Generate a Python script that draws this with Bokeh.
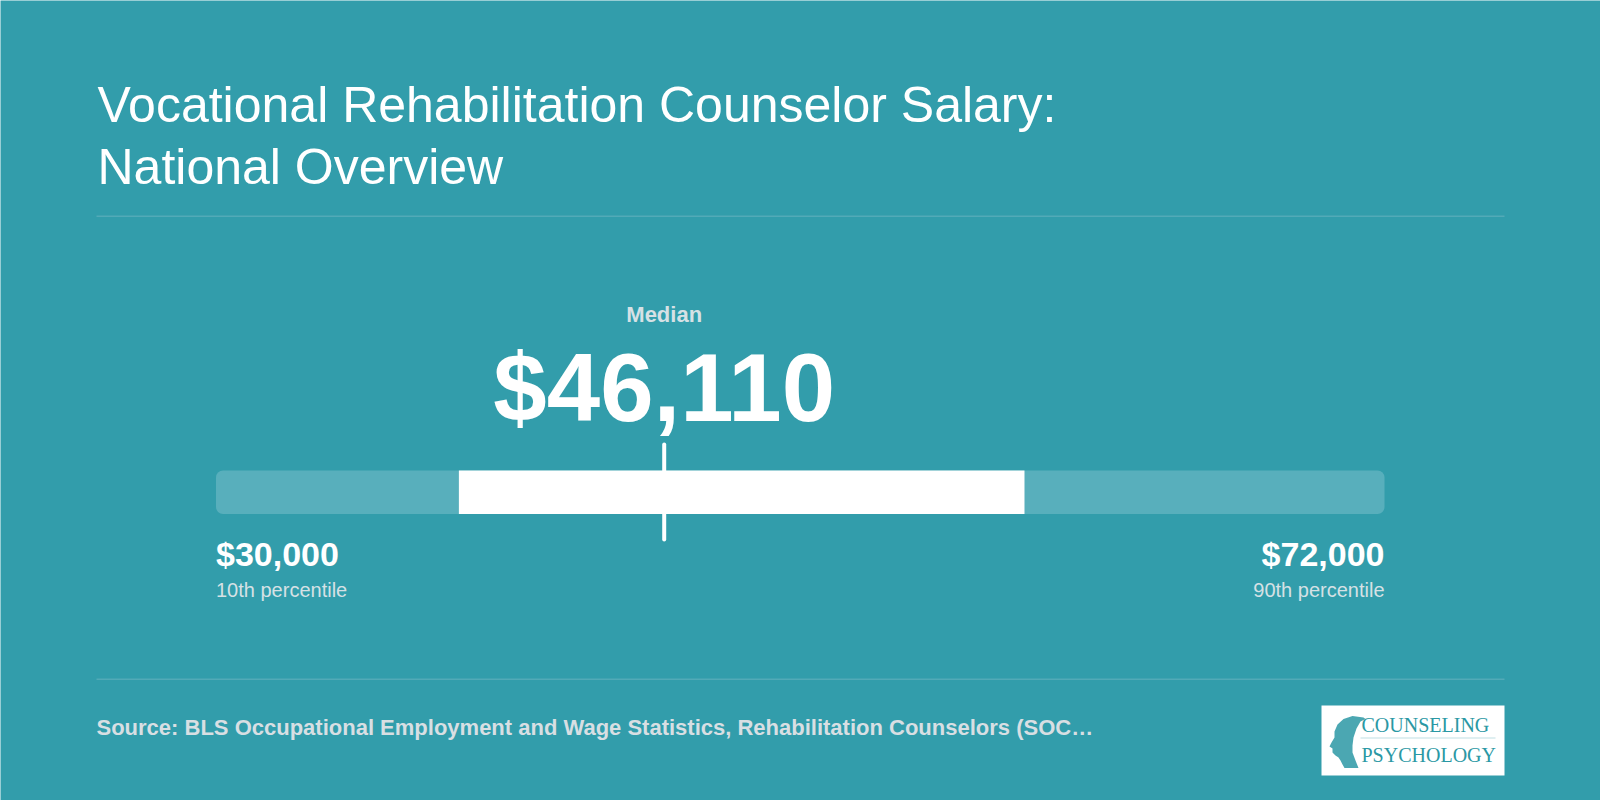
from bokeh.plotting import figure
from bokeh.models import Range1d, Label, BoxAnnotation
from bokeh.embed import file_html
from bokeh.resources import INLINE

# ---------------- data ----------------
percentile_names = ["10th percentile", "25th percentile", "Median", "75th percentile", "90th percentile"]
salary_values = [30000, 38730, 46110, 59060, 72000]
title_lines = ["Vocational Rehabilitation Counselor Salary:", "National Overview"]
source_text = "Source: BLS Occupational Employment and Wage Statistics, Rehabilitation Counselors (SOC\u2026"
logo_words = ["COUNSELING", "PSYCHOLOGY"]

p10, p25, med, p75, p90 = salary_values

# ---------------- style ----------------
BG = "#329dab"
TRACK = "#58afbc"
RULE = "#52aab7"
MUTED = "#d6e1e5"
FONT = "Liberation Sans"
W, H = 1600, 800
BAR_LEFT_PX, BAR_RIGHT_PX = 215.5, 1384.0
SHIFT = 0.35  # baseline correction (em)

# x axis in dollars, positioned so the percentile track sits where it should
scale = (BAR_RIGHT_PX - BAR_LEFT_PX) / (p90 - p10)
x_start = p10 - BAR_LEFT_PX / scale
x_end = x_start + W / scale

p = figure(width=W, height=H, x_range=Range1d(x_start, x_end), y_range=Range1d(H, 0),
           output_backend="svg", toolbar_location=None, min_border=0,
           background_fill_color=BG, border_fill_color=BG)
p.axis.visible = False
p.grid.visible = False
p.outline_line_color = None


def px(xp):
    return x_start + xp / scale


def label(x, baseline, text, size, color="white", bold=False, align="left", screen=False,
          font=FONT):
    kw = dict(x_units="screen") if screen else {}
    p.add_layout(Label(x=x, y=baseline - SHIFT * size, text=text, text_font=font,
                       text_font_size=f"{size}px", text_font_style="bold" if bold else "normal",
                       text_color=color, text_align=align, text_baseline="alphabetic", **kw))


# title
for line, yb in zip(title_lines, [122, 184]):
    label(97, yb, line, 50, screen=True)

# separators
for yy in [215, 678]:
    p.add_layout(BoxAnnotation(left=96, right=1504, left_units="screen", right_units="screen",
                               top=yy, bottom=yy + 1.5, fill_color=RULE, fill_alpha=1, line_color=None,
                               level="underlay"))

# track and interquartile box
p.quad(left=[p10], right=[p90], top=[470], bottom=[513.5], fill_color=TRACK, line_color=None,
       border_radius=7)
p.quad(left=[p25], right=[p75], top=[470], bottom=[513.5], fill_color="white", line_color=None)
p.segment(x0=[med], x1=[med], y0=[444], y1=[539], line_color="white", line_width=4, line_cap="round")

# median labels
label(med, 322, "Median", 22, color=MUTED, bold=True, align="center")
label(med, 421, f"${med:,}", 96, bold=True, align="center")

# end labels
for val, name, align in [(p10, percentile_names[0], "left"), (p90, percentile_names[4], "right")]:
    label(val, 565, f"${val:,}", 34, bold=True, align=align)
    label(val, 596, name, 20, color=MUTED, align=align)

# source
label(96, 735, source_text, 22, color="#d8dfe3", bold=True, screen=True)

# logo
p.add_layout(BoxAnnotation(left=1321, right=1504, left_units="screen", right_units="screen",
                           top=705, bottom=775, fill_color="white", fill_alpha=1, line_color=None,
                           level="underlay"))
head = [(1363, 717), (1352, 715.5), (1343, 718.5), (1337, 724), (1334, 731), (1334, 737),
        (1331, 742), (1329, 746), (1332, 748), (1332, 752), (1335, 755), (1338, 757),
        (1340, 760), (1342, 764), (1344, 767.5), (1358, 767.5), (1355, 760), (1352, 752),
        (1352, 745), (1353, 737), (1356, 728), (1360, 721), (1365, 718.5)]
p.patch([px(a) for a, b in head], [b for a, b in head], fill_color="#2b98a4", fill_alpha=0.85,
        line_color=None)
p.add_layout(BoxAnnotation(left=1360, right=1495, left_units="screen", right_units="screen",
                           top=737, bottom=738, fill_color="#bfe0e4", fill_alpha=1, line_color=None))
for word, yb in zip(logo_words, [731, 761]):
    label(1361, yb, word, 20, color="#2b98a4", screen=True, font="Liberation Serif")

open("out.html", "w").write(file_html(p, INLINE))
